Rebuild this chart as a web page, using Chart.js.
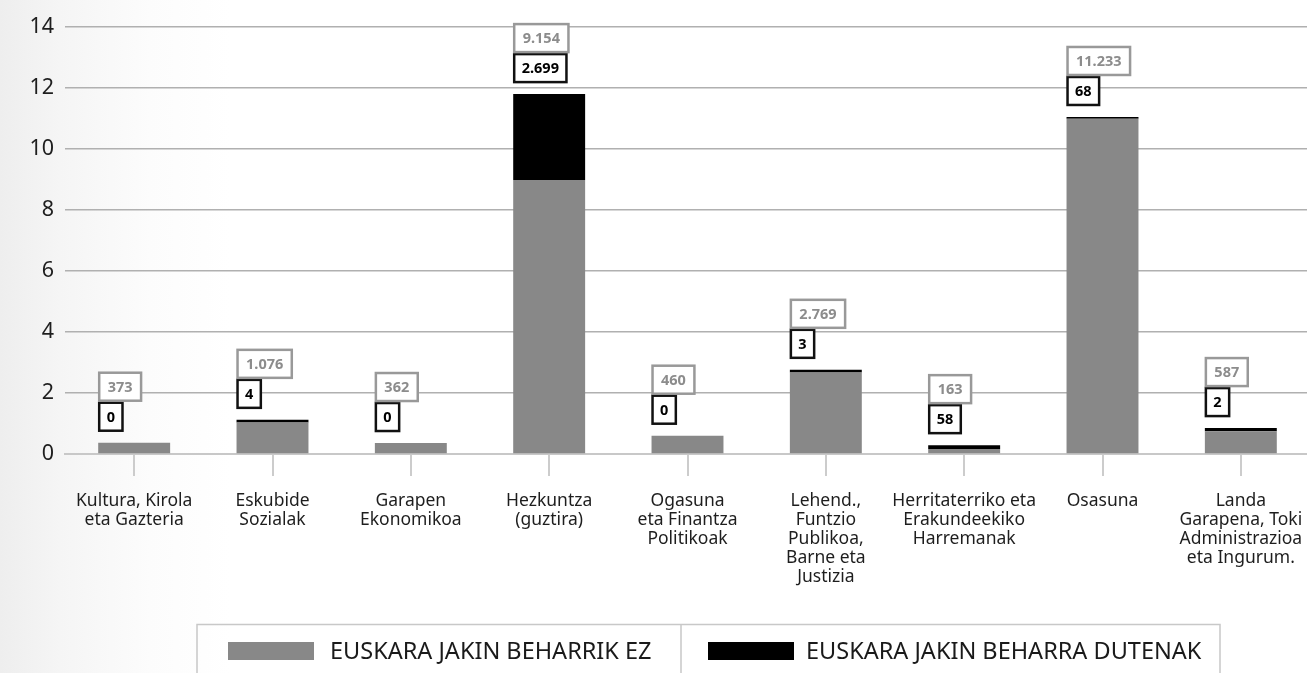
<!DOCTYPE html>
<html>
<head>
<meta charset="utf-8">
<script src="https://cdn.jsdelivr.net/npm/chart.js@4.4.0/dist/chart.umd.min.js"></script>
<style>
html, body { margin:0; padding:0; overflow:hidden; width:1307px; height:673px; }
body { background: linear-gradient(to right, #eeeeee 0px, #f5f5f5 60px, #fcfcfc 150px, #ffffff 230px); }
canvas { display:block; }
</style>
</head>
<body>
<canvas id="myChart" width="1320" height="673"></canvas>
<script>
// sailak (departments)
var sailak = [
	['Kultura, Kirola', 'eta Gazteria'],
	['Eskubide', 'Sozialak'],
	['Garapen', 'Ekonomikoa'],
	['Hezkuntza', '(guztira)'],
	['Ogasuna', 'eta Finantza', 'Politikoak'],
	['Lehend.,', 'Funtzio', 'Publikoa,', 'Barne eta', 'Justizia'],
	['Herritaterriko eta', 'Erakundeekiko', 'Harremanak'],
	['Osasuna'],
	['Landa', 'Garapena, Toki', 'Administrazioa', 'eta Ingurum.']
];

var serieIzenak = ['EUSKARA JAKIN BEHARRIK EZ', 'EUSKARA JAKIN BEHARRA DUTENAK'];

// bar heights (thousands)
var beharrikEz = [0.37, 1.03, 0.36, 8.98, 0.60, 2.67, 0.16, 10.99, 0.75];
var beharraDute = [0, 0.09, 0, 2.82, 0, 0.09, 0.13, 0.06, 0.10];

// boxed value labels
var ezEtiketak = ['373', '1.076', '362', '9.154', '460', '2.769', '163', '11.233', '587'];
var duteEtiketak = ['0', '4', '0', '2.699', '0', '3', '58', '68', '2'];

var yTicks = [0, 2, 4, 6, 8, 10, 12, 14];

var kolGris = '#888888';
var kolBeltz = '#000000';

// boxes with the numbers above each bar
var kutxaPlugin = {
	id: 'kutxak',
	afterDatasetsDraw: function(chart){
		var ctx = chart.ctx;
		var meta = chart.getDatasetMeta(1);
		ctx.save();
		ctx.font = 'bold 14.5px "Noto Sans"';
		ctx.textBaseline = 'middle';
		ctx.textAlign = 'left';
		for (var i = 0; i < meta.data.length; i++) {
			var el = meta.data[i];
			var left = el.x - el.width / 2 + 1;
			var h = 28;
			// black box
			var bBottom = el.y - 12;
			var bTop = bBottom - h;
			var tw = ctx.measureText(duteEtiketak[i]).width;
			var bw = tw + 15;
			ctx.fillStyle = '#fff';
			ctx.fillRect(left, bTop, bw, h);
			ctx.lineWidth = 2.5;
			ctx.strokeStyle = '#111';
			ctx.strokeRect(left, bTop, bw, h);
			ctx.fillStyle = '#000';
			ctx.fillText(duteEtiketak[i], left + 7.5, bTop + h / 2 + 1);
			// gray box
			var gBottom = bTop - 2;
			var gTop = gBottom - h;
			var tw2 = ctx.measureText(ezEtiketak[i]).width;
			var gw = tw2 + 17;
			ctx.fillStyle = '#fff';
			ctx.fillRect(left, gTop, gw, h);
			ctx.strokeStyle = '#999';
			ctx.strokeRect(left, gTop, gw, h);
			ctx.fillStyle = '#8c8c8c';
			ctx.fillText(ezEtiketak[i], left + 8.5, gTop + h / 2 + 1);
		}
		ctx.restore();
	}
};

// legend box at the bottom
var legendaPlugin = {
	id: 'legenda',
	afterDraw: function(chart){
		var ctx = chart.ctx;
		ctx.save();
		ctx.strokeStyle = '#c8c8c8';
		ctx.lineWidth = 1.5;
		ctx.beginPath();
		ctx.moveTo(197, 700); ctx.lineTo(197, 624.5); ctx.lineTo(1220, 624.5); ctx.lineTo(1220, 700);
		ctx.moveTo(681, 624.5); ctx.lineTo(681, 700);
		ctx.stroke();
		var sx = [228, 708];
		var tx = [330, 806];
		ctx.font = '20px "Noto Sans"';
		var sc = 322 / ctx.measureText(serieIzenak[0]).width;
		var fs = Math.round(20 * sc * 10) / 10;
		ctx.font = fs + 'px "Noto Sans"';
		ctx.textBaseline = 'middle';
		ctx.textAlign = 'left';
		chart.data.datasets.forEach(function(ds, k){
			ctx.fillStyle = ds.backgroundColor;
			ctx.fillRect(sx[k], 642, 86, 18);
			ctx.fillStyle = '#1a1a1a';
			ctx.fillText(ds.label, tx[k], 652);
		});
		ctx.restore();
	}
};

var ctx = document.getElementById('myChart');
var barGraph = new Chart(ctx, {
	type: 'bar',
	data: {
		labels: sailak,
		datasets: [
			{ label: serieIzenak[0], data: beharrikEz, backgroundColor: kolGris, barPercentage: 1, categoryPercentage: 0.52 },
			{ label: serieIzenak[1], data: beharraDute, backgroundColor: kolBeltz, barPercentage: 1, categoryPercentage: 0.52 }
		]
	},
	options: {
		responsive: false,
		animation: false,
		layout: { padding: { top: 27, right: 10, left: 0, bottom: 0 } },
		plugins: { legend: { display: false }, tooltip: { enabled: false } },
		scales: {
			x: {
				stacked: true,
				offset: true,
				grid: { offset: false, drawOnChartArea: false, drawTicks: true, tickLength: 22, color: '#cccccc', lineWidth: 2 },
				border: { display: true, color: '#c8c8c8', width: 2 },
				ticks: {
					padding: 15,
					color: '#1e1e1e',
					maxRotation: 0,
					autoSkip: false,
					font: { family: '"Noto Sans"', size: 17.5, lineHeight: 1.09 }
				},
				afterFit: function(scale){ scale.height = 219; }
			},
			y: {
				stacked: true,
				min: 0,
				max: 14,
				afterBuildTicks: function(scale){
					scale.ticks = yTicks.map(function(v){ return { value: v }; });
				},
				grid: { color: '#b0b0b0', lineWidth: 1.5, drawTicks: false },
				border: { display: false },
				ticks: {
					padding: 11,
					color: '#1e1e1e',
					font: { family: '"Noto Sans"', size: 21.5 }
				},
				afterFit: function(scale){ scale.width = 65; }
			}
		}
	},
	plugins: [kutxaPlugin, legendaPlugin]
});
</script>
</body>
</html>
